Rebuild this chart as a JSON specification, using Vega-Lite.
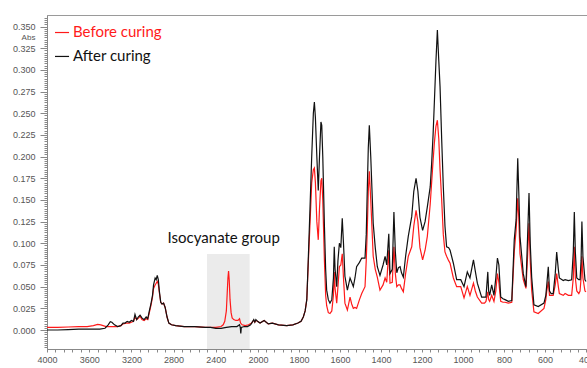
{
  "$schema": "https://vega.github.io/schema/vega-lite/v6.json",
  "width": 540,
  "height": 334,
  "autosize": {"type": "none"},
  "padding": {"left": 47, "top": 15, "right": 0, "bottom": 19},
  "background": "white",
  "config": {"view": {"stroke": "#9a9a9a"}, "font": "Liberation Sans"},
  "datasets": {
    "box": [{"w": 2483, "w2": 2079, "a": -0.0219, "a2": 0.0877}],
    "before": [
      {"s":"Before curing","w":4000,"a":0.003},{"s":"Before curing","w":3900,"a":0.003},{"s":"Before curing","w":3800,"a":0.0035},{"s":"Before curing","w":3700,"a":0.004},{"s":"Before curing","w":3620,"a":0.004},{"s":"Before curing","w":3560,"a":0.005},{"s":"Before curing","w":3520,"a":0.0065},{"s":"Before curing","w":3490,"a":0.006},{"s":"Before curing","w":3440,"a":0.004},{"s":"Before curing","w":3400,"a":0.004},{"s":"Before curing","w":3360,"a":0.004},{"s":"Before curing","w":3330,"a":0.004},{"s":"Before curing","w":3300,"a":0.005},{"s":"Before curing","w":3280,"a":0.007},{"s":"Before curing","w":3250,"a":0.008},{"s":"Before curing","w":3220,"a":0.008},{"s":"Before curing","w":3200,"a":0.009},{"s":"Before curing","w":3180,"a":0.01},{"s":"Before curing","w":3166,"a":0.015},{"s":"Before curing","w":3150,"a":0.012},{"s":"Before curing","w":3130,"a":0.014},{"s":"Before curing","w":3118,"a":0.016},{"s":"Before curing","w":3100,"a":0.012},{"s":"Before curing","w":3080,"a":0.011},{"s":"Before curing","w":3060,"a":0.013},{"s":"Before curing","w":3045,"a":0.012},{"s":"Before curing","w":3030,"a":0.02},{"s":"Before curing","w":3015,"a":0.028},{"s":"Before curing","w":3000,"a":0.038},{"s":"Before curing","w":2990,"a":0.048},{"s":"Before curing","w":2975,"a":0.052},{"s":"Before curing","w":2965,"a":0.054},{"s":"Before curing","w":2955,"a":0.056},{"s":"Before curing","w":2945,"a":0.053},{"s":"Before curing","w":2935,"a":0.043},{"s":"Before curing","w":2922,"a":0.032},{"s":"Before curing","w":2910,"a":0.03},{"s":"Before curing","w":2895,"a":0.031},{"s":"Before curing","w":2880,"a":0.026},{"s":"Before curing","w":2862,"a":0.015},{"s":"Before curing","w":2845,"a":0.008},{"s":"Before curing","w":2820,"a":0.006},{"s":"Before curing","w":2780,"a":0.005},{"s":"Before curing","w":2700,"a":0.004},{"s":"Before curing","w":2600,"a":0.004},{"s":"Before curing","w":2500,"a":0.003},{"s":"Before curing","w":2450,"a":0.003},{"s":"Before curing","w":2400,"a":0.003},{"s":"Before curing","w":2350,"a":0.004},{"s":"Before curing","w":2330,"a":0.006},{"s":"Before curing","w":2315,"a":0.01},{"s":"Before curing","w":2300,"a":0.022},{"s":"Before curing","w":2292,"a":0.042},{"s":"Before curing","w":2285,"a":0.06},{"s":"Before curing","w":2279,"a":0.068},{"s":"Before curing","w":2273,"a":0.058},{"s":"Before curing","w":2265,"a":0.035},{"s":"Before curing","w":2255,"a":0.02},{"s":"Before curing","w":2245,"a":0.014},{"s":"Before curing","w":2230,"a":0.012},{"s":"Before curing","w":2210,"a":0.011},{"s":"Before curing","w":2190,"a":0.011},{"s":"Before curing","w":2175,"a":0.013},{"s":"Before curing","w":2165,"a":0.008},{"s":"Before curing","w":2150,"a":0.006},{"s":"Before curing","w":2120,"a":0.005},{"s":"Before curing","w":2090,"a":0.006},{"s":"Before curing","w":2060,"a":0.008},{"s":"Before curing","w":2050,"a":0.01},{"s":"Before curing","w":2040,"a":0.011},{"s":"Before curing","w":2030,"a":0.009},{"s":"Before curing","w":2020,"a":0.011},{"s":"Before curing","w":2005,"a":0.01},{"s":"Before curing","w":1990,"a":0.008},{"s":"Before curing","w":1970,"a":0.011},{"s":"Before curing","w":1950,"a":0.007},{"s":"Before curing","w":1930,"a":0.008},{"s":"Before curing","w":1900,"a":0.006},{"s":"Before curing","w":1860,"a":0.005},{"s":"Before curing","w":1830,"a":0.006},{"s":"Before curing","w":1805,"a":0.008},{"s":"Before curing","w":1790,"a":0.01},{"s":"Before curing","w":1779,"a":0.015},{"s":"Before curing","w":1770,"a":0.022},{"s":"Before curing","w":1762,"a":0.035},{"s":"Before curing","w":1755,"a":0.075},{"s":"Before curing","w":1745,"a":0.13},{"s":"Before curing","w":1738,"a":0.17},{"s":"Before curing","w":1730,"a":0.185},{"s":"Before curing","w":1725,"a":0.187},{"s":"Before curing","w":1720,"a":0.17},{"s":"Before curing","w":1713,"a":0.125},{"s":"Before curing","w":1706,"a":0.104},{"s":"Before curing","w":1700,"a":0.14},{"s":"Before curing","w":1693,"a":0.172},{"s":"Before curing","w":1689,"a":0.175},{"s":"Before curing","w":1684,"a":0.15},{"s":"Before curing","w":1676,"a":0.08},{"s":"Before curing","w":1670,"a":0.04},{"s":"Before curing","w":1665,"a":0.028},{"s":"Before curing","w":1657,"a":0.02},{"s":"Before curing","w":1649,"a":0.019},{"s":"Before curing","w":1640,"a":0.022},{"s":"Before curing","w":1632,"a":0.04},{"s":"Before curing","w":1628,"a":0.067},{"s":"Before curing","w":1624,"a":0.048},{"s":"Before curing","w":1616,"a":0.031},{"s":"Before curing","w":1610,"a":0.05},{"s":"Before curing","w":1603,"a":0.073},{"s":"Before curing","w":1596,"a":0.075},{"s":"Before curing","w":1589,"a":0.088},{"s":"Before curing","w":1583,"a":0.06},{"s":"Before curing","w":1576,"a":0.031},{"s":"Before curing","w":1564,"a":0.023},{"s":"Before curing","w":1551,"a":0.038},{"s":"Before curing","w":1543,"a":0.03},{"s":"Before curing","w":1535,"a":0.025},{"s":"Before curing","w":1527,"a":0.026},{"s":"Before curing","w":1519,"a":0.025},{"s":"Before curing","w":1505,"a":0.035},{"s":"Before curing","w":1494,"a":0.042},{"s":"Before curing","w":1478,"a":0.05},{"s":"Before curing","w":1472,"a":0.08},{"s":"Before curing","w":1467,"a":0.115},{"s":"Before curing","w":1462,"a":0.16},{"s":"Before curing","w":1457,"a":0.183},{"s":"Before curing","w":1450,"a":0.15},{"s":"Before curing","w":1438,"a":0.085},{"s":"Before curing","w":1428,"a":0.07},{"s":"Before curing","w":1418,"a":0.061},{"s":"Before curing","w":1405,"a":0.046},{"s":"Before curing","w":1390,"a":0.052},{"s":"Before curing","w":1380,"a":0.06},{"s":"Before curing","w":1372,"a":0.055},{"s":"Before curing","w":1362,"a":0.092},{"s":"Before curing","w":1356,"a":0.054},{"s":"Before curing","w":1345,"a":0.055},{"s":"Before curing","w":1337,"a":0.096},{"s":"Before curing","w":1330,"a":0.065},{"s":"Before curing","w":1323,"a":0.05},{"s":"Before curing","w":1315,"a":0.052},{"s":"Before curing","w":1307,"a":0.052},{"s":"Before curing","w":1300,"a":0.048},{"s":"Before curing","w":1291,"a":0.044},{"s":"Before curing","w":1280,"a":0.065},{"s":"Before curing","w":1267,"a":0.085},{"s":"Before curing","w":1250,"a":0.096},{"s":"Before curing","w":1240,"a":0.12},{"s":"Before curing","w":1229,"a":0.138},{"s":"Before curing","w":1220,"a":0.125},{"s":"Before curing","w":1210,"a":0.095},{"s":"Before curing","w":1197,"a":0.081},{"s":"Before curing","w":1185,"a":0.092},{"s":"Before curing","w":1174,"a":0.108},{"s":"Before curing","w":1160,"a":0.145},{"s":"Before curing","w":1153,"a":0.17},{"s":"Before curing","w":1146,"a":0.195},{"s":"Before curing","w":1140,"a":0.215},{"s":"Before curing","w":1132,"a":0.235},{"s":"Before curing","w":1125,"a":0.242},{"s":"Before curing","w":1118,"a":0.22},{"s":"Before curing","w":1112,"a":0.185},{"s":"Before curing","w":1104,"a":0.15},{"s":"Before curing","w":1096,"a":0.11},{"s":"Before curing","w":1088,"a":0.09},{"s":"Before curing","w":1080,"a":0.085},{"s":"Before curing","w":1070,"a":0.08},{"s":"Before curing","w":1063,"a":0.077},{"s":"Before curing","w":1047,"a":0.06},{"s":"Before curing","w":1031,"a":0.05},{"s":"Before curing","w":1011,"a":0.05},{"s":"Before curing","w":995,"a":0.037},{"s":"Before curing","w":979,"a":0.05},{"s":"Before curing","w":966,"a":0.04},{"s":"Before curing","w":949,"a":0.054},{"s":"Before curing","w":940,"a":0.045},{"s":"Before curing","w":930,"a":0.038},{"s":"Before curing","w":909,"a":0.031},{"s":"Before curing","w":895,"a":0.031},{"s":"Before curing","w":888,"a":0.033},{"s":"Before curing","w":879,"a":0.044},{"s":"Before curing","w":875,"a":0.035},{"s":"Before curing","w":870,"a":0.033},{"s":"Before curing","w":860,"a":0.04},{"s":"Before curing","w":849,"a":0.033},{"s":"Before curing","w":840,"a":0.045},{"s":"Before curing","w":832,"a":0.065},{"s":"Before curing","w":825,"a":0.055},{"s":"Before curing","w":816,"a":0.033},{"s":"Before curing","w":805,"a":0.032},{"s":"Before curing","w":795,"a":0.032},{"s":"Before curing","w":779,"a":0.031},{"s":"Before curing","w":762,"a":0.032},{"s":"Before curing","w":750,"a":0.09},{"s":"Before curing","w":741,"a":0.115},{"s":"Before curing","w":733,"a":0.152},{"s":"Before curing","w":728,"a":0.13},{"s":"Before curing","w":722,"a":0.088},{"s":"Before curing","w":706,"a":0.058},{"s":"Before curing","w":693,"a":0.048},{"s":"Before curing","w":686,"a":0.08},{"s":"Before curing","w":678,"a":0.123},{"s":"Before curing","w":672,"a":0.08},{"s":"Before curing","w":665,"a":0.046},{"s":"Before curing","w":654,"a":0.021},{"s":"Before curing","w":633,"a":0.019},{"s":"Before curing","w":605,"a":0.025},{"s":"Before curing","w":596,"a":0.035},{"s":"Before curing","w":592,"a":0.044},{"s":"Before curing","w":584,"a":0.056},{"s":"Before curing","w":578,"a":0.04},{"s":"Before curing","w":570,"a":0.04},{"s":"Before curing","w":560,"a":0.04},{"s":"Before curing","w":550,"a":0.052},{"s":"Before curing","w":543,"a":0.065},{"s":"Before curing","w":535,"a":0.05},{"s":"Before curing","w":530,"a":0.042},{"s":"Before curing","w":511,"a":0.04},{"s":"Before curing","w":502,"a":0.042},{"s":"Before curing","w":486,"a":0.04},{"s":"Before curing","w":470,"a":0.04},{"s":"Before curing","w":462,"a":0.06},{"s":"Before curing","w":457,"a":0.096},{"s":"Before curing","w":452,"a":0.06},{"s":"Before curing","w":445,"a":0.045},{"s":"Before curing","w":435,"a":0.042},{"s":"Before curing","w":429,"a":0.045},{"s":"Before curing","w":424,"a":0.06},{"s":"Before curing","w":420,"a":0.085},{"s":"Before curing","w":415,"a":0.06},{"s":"Before curing","w":405,"a":0.045},{"s":"Before curing","w":400,"a":0.044}
    ],
    "after": [
      {"s":"After curing","w":4000,"a":0.0},{"s":"After curing","w":3900,"a":0.0},{"s":"After curing","w":3800,"a":0.0005},{"s":"After curing","w":3700,"a":0.001},{"s":"After curing","w":3600,"a":0.001},{"s":"After curing","w":3500,"a":0.001},{"s":"After curing","w":3450,"a":0.002},{"s":"After curing","w":3420,"a":0.006},{"s":"After curing","w":3400,"a":0.0095},{"s":"After curing","w":3385,"a":0.009},{"s":"After curing","w":3360,"a":0.006},{"s":"After curing","w":3330,"a":0.004},{"s":"After curing","w":3300,"a":0.005},{"s":"After curing","w":3280,"a":0.008},{"s":"After curing","w":3260,"a":0.008},{"s":"After curing","w":3240,"a":0.01},{"s":"After curing","w":3220,"a":0.009},{"s":"After curing","w":3200,"a":0.011},{"s":"After curing","w":3180,"a":0.01},{"s":"After curing","w":3166,"a":0.018},{"s":"After curing","w":3150,"a":0.012},{"s":"After curing","w":3135,"a":0.015},{"s":"After curing","w":3118,"a":0.017},{"s":"After curing","w":3100,"a":0.014},{"s":"After curing","w":3080,"a":0.012},{"s":"After curing","w":3060,"a":0.015},{"s":"After curing","w":3045,"a":0.013},{"s":"After curing","w":3030,"a":0.022},{"s":"After curing","w":3015,"a":0.03},{"s":"After curing","w":3000,"a":0.04},{"s":"After curing","w":2990,"a":0.052},{"s":"After curing","w":2975,"a":0.06},{"s":"After curing","w":2965,"a":0.058},{"s":"After curing","w":2955,"a":0.063},{"s":"After curing","w":2945,"a":0.058},{"s":"After curing","w":2935,"a":0.045},{"s":"After curing","w":2922,"a":0.032},{"s":"After curing","w":2910,"a":0.03},{"s":"After curing","w":2895,"a":0.031},{"s":"After curing","w":2880,"a":0.026},{"s":"After curing","w":2862,"a":0.015},{"s":"After curing","w":2845,"a":0.008},{"s":"After curing","w":2820,"a":0.006},{"s":"After curing","w":2780,"a":0.005},{"s":"After curing","w":2700,"a":0.004},{"s":"After curing","w":2600,"a":0.004},{"s":"After curing","w":2500,"a":0.003},{"s":"After curing","w":2450,"a":0.003},{"s":"After curing","w":2400,"a":0.002},{"s":"After curing","w":2350,"a":0.002},{"s":"After curing","w":2300,"a":0.003},{"s":"After curing","w":2250,"a":0.004},{"s":"After curing","w":2200,"a":0.004},{"s":"After curing","w":2175,"a":0.006},{"s":"After curing","w":2168,"a":0.003},{"s":"After curing","w":2163,"a":-0.004},{"s":"After curing","w":2158,"a":0.003},{"s":"After curing","w":2130,"a":0.004},{"s":"After curing","w":2100,"a":0.004},{"s":"After curing","w":2070,"a":0.006},{"s":"After curing","w":2050,"a":0.01},{"s":"After curing","w":2040,"a":0.012},{"s":"After curing","w":2030,"a":0.009},{"s":"After curing","w":2020,"a":0.012},{"s":"After curing","w":2005,"a":0.01},{"s":"After curing","w":1990,"a":0.008},{"s":"After curing","w":1970,"a":0.011},{"s":"After curing","w":1950,"a":0.007},{"s":"After curing","w":1930,"a":0.008},{"s":"After curing","w":1900,"a":0.006},{"s":"After curing","w":1860,"a":0.005},{"s":"After curing","w":1830,"a":0.006},{"s":"After curing","w":1805,"a":0.008},{"s":"After curing","w":1790,"a":0.01},{"s":"After curing","w":1779,"a":0.015},{"s":"After curing","w":1770,"a":0.022},{"s":"After curing","w":1762,"a":0.035},{"s":"After curing","w":1755,"a":0.08},{"s":"After curing","w":1745,"a":0.15},{"s":"After curing","w":1738,"a":0.2},{"s":"After curing","w":1730,"a":0.25},{"s":"After curing","w":1725,"a":0.263},{"s":"After curing","w":1720,"a":0.245},{"s":"After curing","w":1713,"a":0.2},{"s":"After curing","w":1706,"a":0.161},{"s":"After curing","w":1700,"a":0.2},{"s":"After curing","w":1693,"a":0.24},{"s":"After curing","w":1689,"a":0.236},{"s":"After curing","w":1684,"a":0.2},{"s":"After curing","w":1676,"a":0.12},{"s":"After curing","w":1670,"a":0.07},{"s":"After curing","w":1665,"a":0.046},{"s":"After curing","w":1657,"a":0.035},{"s":"After curing","w":1649,"a":0.031},{"s":"After curing","w":1640,"a":0.035},{"s":"After curing","w":1632,"a":0.06},{"s":"After curing","w":1628,"a":0.096},{"s":"After curing","w":1624,"a":0.07},{"s":"After curing","w":1616,"a":0.05},{"s":"After curing","w":1610,"a":0.08},{"s":"After curing","w":1603,"a":0.1},{"s":"After curing","w":1596,"a":0.095},{"s":"After curing","w":1589,"a":0.129},{"s":"After curing","w":1583,"a":0.1},{"s":"After curing","w":1576,"a":0.062},{"s":"After curing","w":1564,"a":0.046},{"s":"After curing","w":1551,"a":0.06},{"s":"After curing","w":1543,"a":0.055},{"s":"After curing","w":1535,"a":0.05},{"s":"After curing","w":1527,"a":0.06},{"s":"After curing","w":1519,"a":0.073},{"s":"After curing","w":1505,"a":0.078},{"s":"After curing","w":1494,"a":0.083},{"s":"After curing","w":1478,"a":0.083},{"s":"After curing","w":1472,"a":0.11},{"s":"After curing","w":1467,"a":0.161},{"s":"After curing","w":1462,"a":0.21},{"s":"After curing","w":1457,"a":0.236},{"s":"After curing","w":1450,"a":0.2},{"s":"After curing","w":1438,"a":0.123},{"s":"After curing","w":1428,"a":0.095},{"s":"After curing","w":1418,"a":0.073},{"s":"After curing","w":1405,"a":0.063},{"s":"After curing","w":1390,"a":0.075},{"s":"After curing","w":1380,"a":0.085},{"s":"After curing","w":1372,"a":0.075},{"s":"After curing","w":1362,"a":0.111},{"s":"After curing","w":1356,"a":0.065},{"s":"After curing","w":1345,"a":0.07},{"s":"After curing","w":1337,"a":0.136},{"s":"After curing","w":1330,"a":0.09},{"s":"After curing","w":1323,"a":0.066},{"s":"After curing","w":1315,"a":0.072},{"s":"After curing","w":1307,"a":0.073},{"s":"After curing","w":1300,"a":0.066},{"s":"After curing","w":1291,"a":0.061},{"s":"After curing","w":1280,"a":0.085},{"s":"After curing","w":1267,"a":0.108},{"s":"After curing","w":1250,"a":0.131},{"s":"After curing","w":1240,"a":0.16},{"s":"After curing","w":1229,"a":0.175},{"s":"After curing","w":1220,"a":0.16},{"s":"After curing","w":1210,"a":0.13},{"s":"After curing","w":1197,"a":0.115},{"s":"After curing","w":1185,"a":0.125},{"s":"After curing","w":1174,"a":0.142},{"s":"After curing","w":1160,"a":0.165},{"s":"After curing","w":1153,"a":0.192},{"s":"After curing","w":1146,"a":0.225},{"s":"After curing","w":1140,"a":0.261},{"s":"After curing","w":1132,"a":0.31},{"s":"After curing","w":1125,"a":0.346},{"s":"After curing","w":1118,"a":0.31},{"s":"After curing","w":1112,"a":0.281},{"s":"After curing","w":1104,"a":0.22},{"s":"After curing","w":1096,"a":0.165},{"s":"After curing","w":1088,"a":0.12},{"s":"After curing","w":1080,"a":0.096},{"s":"After curing","w":1070,"a":0.095},{"s":"After curing","w":1063,"a":0.092},{"s":"After curing","w":1047,"a":0.077},{"s":"After curing","w":1031,"a":0.058},{"s":"After curing","w":1011,"a":0.058},{"s":"After curing","w":995,"a":0.05},{"s":"After curing","w":979,"a":0.067},{"s":"After curing","w":966,"a":0.06},{"s":"After curing","w":949,"a":0.081},{"s":"After curing","w":940,"a":0.068},{"s":"After curing","w":930,"a":0.054},{"s":"After curing","w":909,"a":0.038},{"s":"After curing","w":895,"a":0.038},{"s":"After curing","w":888,"a":0.038},{"s":"After curing","w":879,"a":0.067},{"s":"After curing","w":875,"a":0.045},{"s":"After curing","w":870,"a":0.04},{"s":"After curing","w":860,"a":0.052},{"s":"After curing","w":849,"a":0.04},{"s":"After curing","w":840,"a":0.06},{"s":"After curing","w":832,"a":0.083},{"s":"After curing","w":825,"a":0.075},{"s":"After curing","w":816,"a":0.038},{"s":"After curing","w":805,"a":0.036},{"s":"After curing","w":795,"a":0.035},{"s":"After curing","w":779,"a":0.033},{"s":"After curing","w":762,"a":0.034},{"s":"After curing","w":750,"a":0.104},{"s":"After curing","w":741,"a":0.127},{"s":"After curing","w":733,"a":0.198},{"s":"After curing","w":728,"a":0.16},{"s":"After curing","w":722,"a":0.108},{"s":"After curing","w":706,"a":0.065},{"s":"After curing","w":693,"a":0.05},{"s":"After curing","w":686,"a":0.1},{"s":"After curing","w":678,"a":0.158},{"s":"After curing","w":672,"a":0.1},{"s":"After curing","w":665,"a":0.061},{"s":"After curing","w":654,"a":0.029},{"s":"After curing","w":633,"a":0.027},{"s":"After curing","w":605,"a":0.031},{"s":"After curing","w":596,"a":0.04},{"s":"After curing","w":592,"a":0.05},{"s":"After curing","w":584,"a":0.073},{"s":"After curing","w":578,"a":0.045},{"s":"After curing","w":570,"a":0.042},{"s":"After curing","w":560,"a":0.042},{"s":"After curing","w":550,"a":0.065},{"s":"After curing","w":543,"a":0.09},{"s":"After curing","w":535,"a":0.07},{"s":"After curing","w":530,"a":0.06},{"s":"After curing","w":511,"a":0.057},{"s":"After curing","w":502,"a":0.058},{"s":"After curing","w":486,"a":0.057},{"s":"After curing","w":470,"a":0.058},{"s":"After curing","w":462,"a":0.09},{"s":"After curing","w":457,"a":0.136},{"s":"After curing","w":452,"a":0.09},{"s":"After curing","w":445,"a":0.06},{"s":"After curing","w":435,"a":0.058},{"s":"After curing","w":429,"a":0.058},{"s":"After curing","w":424,"a":0.08},{"s":"After curing","w":420,"a":0.125},{"s":"After curing","w":415,"a":0.085},{"s":"After curing","w":405,"a":0.058},{"s":"After curing","w":400,"a":0.056}
    ],
    "keys": [
      {"s": "Before curing", "w": 3924, "w2": 3791, "a": 0.3431},
      {"s": "After curing", "w": 3924, "w2": 3791, "a": 0.3155}
    ],
    "keytext": [
      {"s": "Before curing", "w": 3754, "a": 0.3376, "label": "Before curing"},
      {"s": "After curing", "w": 3754, "a": 0.3100, "label": "After curing"}
    ],
    "note": [{"w": 2325, "a": 0.1007, "label": "Isocyanate group"}]
  },
  "encoding": {
    "x": {
      "field": "w", "type": "quantitative",
      "scale": {"domain": [4000, 2000, 400], "range": [0, 211, 539], "zero": false, "nice": false},
      "axis": {
        "title": null, "grid": false, "format": "d",
        "values": [4000,3920,3840,3760,3680,3600,3520,3440,3360,3280,3200,3120,3040,2960,2880,2800,2720,2640,2560,2480,2400,2320,2240,2160,2080,2000,1960,1920,1880,1840,1800,1760,1720,1680,1640,1600,1560,1520,1480,1440,1400,1360,1320,1280,1240,1200,1160,1120,1080,1040,1000,960,920,880,840,800,760,720,680,640,600,560,520,480,440,400],
        "labelExpr": "indexof([4000,3600,3200,2800,2400,2000,1800,1600,1400,1200,1000,800,600,400], datum.value) >= 0 ? datum.label : ''",
        "labelOverlap": false, "labelFlush": false, "labelFontSize": 9, "labelColor": "#555555", "labelPadding": 3,
        "tickSize": 3, "tickColor": "#888888", "domainColor": "#888888", "labelFont": "Liberation Sans"
      }
    },
    "y": {
      "field": "a", "type": "quantitative",
      "scale": {"domain": [-0.0219, 0.3633], "zero": false, "nice": false},
      "axis": {
        "grid": false,
        "values": [-0.02,-0.0175,-0.015,-0.0125,-0.01,-0.0075,-0.005,-0.0025,0,0.0025,0.005,0.0075,0.01,0.0125,0.015,0.0175,0.02,0.0225,0.025,0.0275,0.03,0.0325,0.035,0.0375,0.04,0.0425,0.045,0.0475,0.05,0.0525,0.055,0.0575,0.06,0.0625,0.065,0.0675,0.07,0.0725,0.075,0.0775,0.08,0.0825,0.085,0.0875,0.09,0.0925,0.095,0.0975,0.1,0.1025,0.105,0.1075,0.11,0.1125,0.115,0.1175,0.12,0.1225,0.125,0.1275,0.13,0.1325,0.135,0.1375,0.14,0.1425,0.145,0.1475,0.15,0.1525,0.155,0.1575,0.16,0.1625,0.165,0.1675,0.17,0.1725,0.175,0.1775,0.18,0.1825,0.185,0.1875,0.19,0.1925,0.195,0.1975,0.2,0.2025,0.205,0.2075,0.21,0.2125,0.215,0.2175,0.22,0.2225,0.225,0.2275,0.23,0.2325,0.235,0.2375,0.24,0.2425,0.245,0.2475,0.25,0.2525,0.255,0.2575,0.26,0.2625,0.265,0.2675,0.27,0.2725,0.275,0.2775,0.28,0.2825,0.285,0.2875,0.29,0.2925,0.295,0.2975,0.3,0.3025,0.305,0.3075,0.31,0.3125,0.315,0.3175,0.32,0.3225,0.325,0.3275,0.33,0.3325,0.335,0.3375,0.34,0.3425,0.345,0.3475,0.35,0.3525,0.355,0.3575,0.36],
        "labelExpr": "abs(datum.value*40 - round(datum.value*40)) < 0.01 ? format(datum.value, '.3f') : ''",
        "tickSize": {"condition": {"test": "abs(datum.value*40 - round(datum.value*40)) < 0.01", "value": 7}, "value": 3},
        "labelOverlap": false, "labelFlush": false, "labelFontSize": 9, "labelColor": "#555555", "labelPadding": 5, "labelFont": "Liberation Sans",
        "tickColor": "#888888", "domainColor": "#888888",
        "title": "Abs", "titleAngle": 0, "titleFontSize": 8, "titleFontWeight": "normal", "titleColor": "#555555",
        "titleX": -19, "titleY": 22, "titleAlign": "center", "titleBaseline": "middle", "titleFont": "Liberation Sans"
      }
    }
  },
  "layer": [
    {
      "data": {"name": "box"},
      "mark": {"type": "rect", "color": "#ebebeb"},
      "encoding": {"x2": {"field": "w2"}, "y2": {"field": "a2"}}
    },
    {
      "data": {"name": "before"},
      "mark": {"type": "line", "strokeWidth": 1.2, "clip": true},
      "encoding": {"color": {"field": "s", "type": "nominal", "scale": {"domain": ["Before curing", "After curing"], "range": ["#ff1a1a", "#111111"]}, "legend": null}}
    },
    {
      "data": {"name": "after"},
      "mark": {"type": "line", "strokeWidth": 1.2, "clip": true},
      "encoding": {"color": {"field": "s", "type": "nominal", "legend": null}}
    },
    {
      "data": {"name": "keys"},
      "mark": {"type": "rule", "strokeWidth": 1.2},
      "encoding": {"x2": {"field": "w2"}, "color": {"field": "s", "type": "nominal", "legend": null}}
    },
    {
      "data": {"name": "keytext"},
      "mark": {"type": "text", "align": "left", "baseline": "alphabetic", "font": "Lato", "fontSize": 15},
      "encoding": {"text": {"field": "label"}, "color": {"field": "s", "type": "nominal", "legend": null}}
    },
    {
      "data": {"name": "note"},
      "mark": {"type": "text", "align": "center", "baseline": "alphabetic", "font": "Lato", "fontSize": 15, "color": "#111111"},
      "encoding": {"text": {"field": "label"}}
    }
  ]
}
